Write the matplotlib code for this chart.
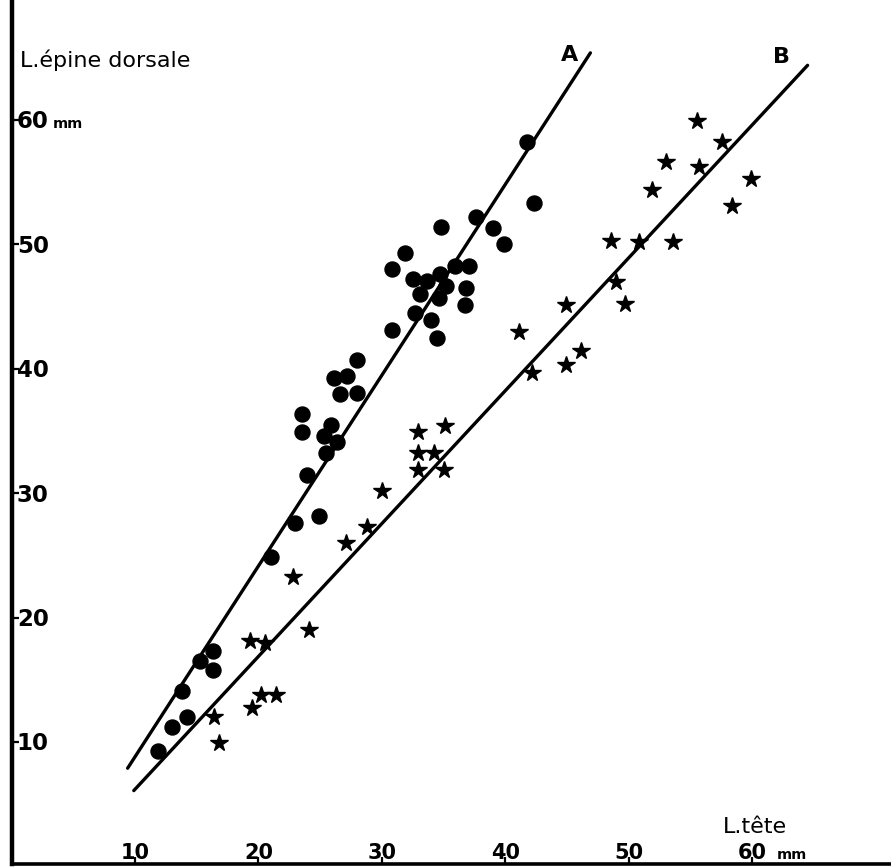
import matplotlib
matplotlib.use("Agg")
import matplotlib.pyplot as plt

plt.rcParams['font.family'] = ['DejaVu Sans']

# population A (points ronds)
a_x = [41.8, 42.3, 37.6, 34.8, 39.0, 39.9, 31.9, 30.8, 35.9, 37.1, 34.7, 32.5,
       33.7, 35.2, 36.8, 33.1, 34.6, 36.7, 32.7, 34.0, 34.5, 30.8, 28.0, 26.1,
       27.2, 26.6, 28.0, 23.5, 25.9, 23.5, 25.3, 26.4, 25.5, 23.9, 23.0, 24.9,
       21.0, 16.3, 15.3, 16.3, 13.8, 14.2, 13.0, 11.9]
a_y = [58.2, 53.3, 52.2, 51.4, 51.3, 50.0, 49.3, 48.0, 48.3, 48.3, 47.6, 47.2,
       47.1, 46.7, 46.5, 46.0, 45.7, 45.1, 44.5, 43.9, 42.5, 43.1, 40.7, 39.3,
       39.4, 38.0, 38.1, 36.4, 35.5, 34.9, 34.6, 34.1, 33.2, 31.5, 27.6, 28.2,
       24.9, 17.3, 16.5, 15.8, 14.1, 12.0, 11.2, 9.3]

# population B (etoiles)
b_x = [55.5, 57.6, 53.0, 55.7, 59.9, 51.9, 58.4, 48.6, 50.8, 53.6, 49.0, 49.7,
       44.9, 41.1, 46.1, 44.9, 42.2, 35.1, 32.9, 32.9, 34.2, 32.9, 35.0, 30.0,
       28.8, 27.1, 22.8, 24.1, 19.3, 20.5, 20.2, 21.4, 19.5, 16.4, 16.8]
b_y = [59.9, 58.2, 56.6, 56.2, 55.3, 54.4, 53.1, 50.3, 50.2, 50.2, 47.0, 45.2,
       45.1, 43.0, 41.4, 40.3, 39.7, 35.4, 34.9, 33.2, 33.2, 31.9, 31.9, 30.2,
       27.3, 26.0, 23.3, 19.0, 18.1, 18.0, 13.8, 13.8, 12.7, 12.0, 9.9]

# droites d'allometrie
line_a_x = [9.4, 46.9]
line_a_y = [7.9, 65.4]
line_b_x = [9.9, 64.5]
line_b_y = [6.1, 64.4]

x_ticks = [10, 20, 30, 40, 50, 60]
y_ticks = [10, 20, 30, 40, 50, 60]

fig = plt.figure(figsize=(8.91, 8.68), dpi=100)
ax = fig.add_axes([12 / 891, 4 / 868, 879 / 891, 864 / 868])

ax.plot(line_a_x, line_a_y, color='black', lw=2.4, solid_capstyle='round')
ax.plot(line_b_x, line_b_y, color='black', lw=2.4, solid_capstyle='round')
ax.plot(a_x, a_y, 'o', color='black', ms=10.8, ls='none')
ax.plot(b_x, b_y, '*', color='black', ms=13, ls='none')

ax.set_xlim(0.03, 71.26)
ax.set_ylim(0.2, 69.65)

for s in ['top', 'right']:
    ax.spines[s].set_visible(False)
ax.spines['left'].set_linewidth(3.2)
ax.spines['bottom'].set_linewidth(2.6)

ax.set_xticks(x_ticks)
ax.set_yticks(y_ticks)
ax.tick_params(direction='in', length=5, width=1.6, labelbottom=False, labelleft=False)

for t in x_ticks:
    ax.annotate(str(t), (t, 0.2), xytext=(0, 3.5), textcoords='offset points',
                ha='center', va='baseline', fontsize=15, fontweight='bold')
for t in y_ticks:
    ax.annotate(str(t), (0.03, t), xytext=(3.5, -6), textcoords='offset points',
                ha='left', va='baseline', fontsize=16.5, fontweight='bold')

# unites
ax.annotate('mm', (0.03, 60), xytext=(29.5, -6), textcoords='offset points',
            ha='left', va='baseline', fontsize=10.4, fontweight='bold')
ax.annotate('mm', (60, 0.2), xytext=(18, 3.5), textcoords='offset points',
            ha='left', va='baseline', fontsize=10.4, fontweight='bold')

ax.text(0.7, 64.3, 'L.épine dorsale', fontsize=16, ha='left', va='baseline')
ax.text(57.6, 2.7, 'L.tête', fontsize=16, ha='left', va='baseline')
ax.text(45.2, 65.2, 'A', fontsize=16, fontweight='bold', ha='center', va='center')
ax.text(62.4, 65.1, 'B', fontsize=16, fontweight='bold', ha='center', va='center')

fig.savefig('out.png', dpi=100)
